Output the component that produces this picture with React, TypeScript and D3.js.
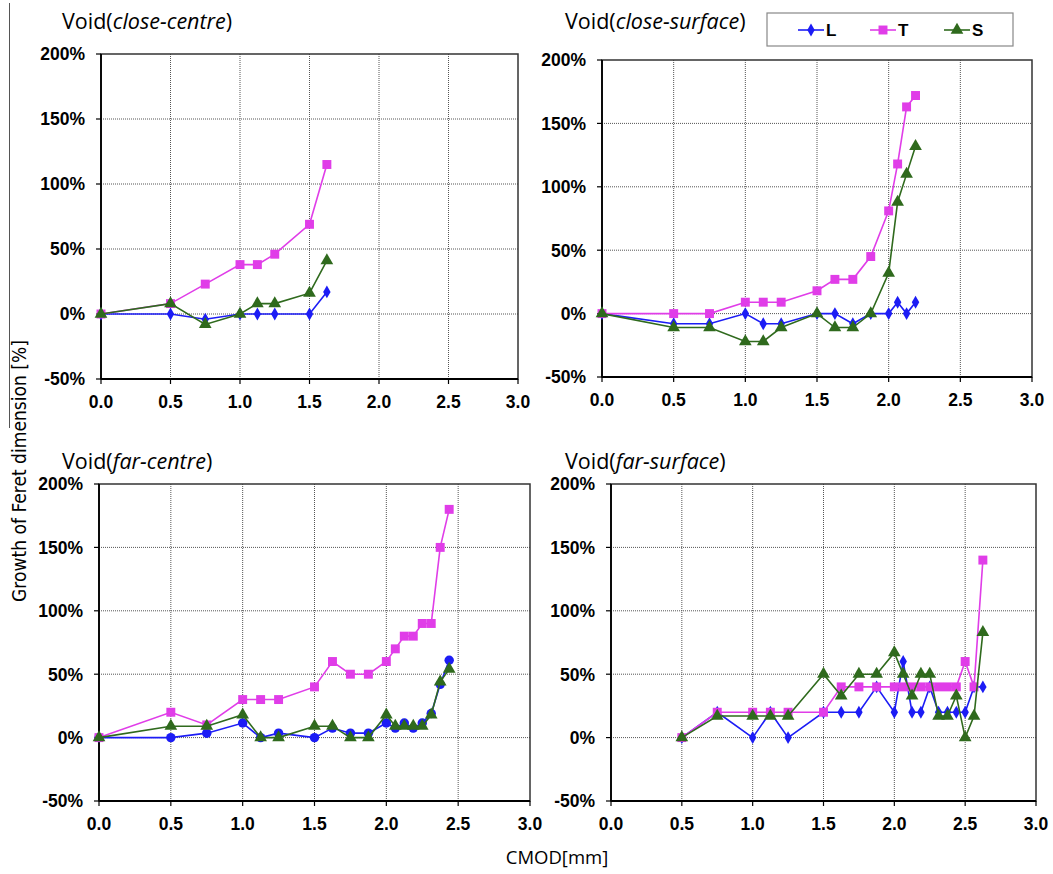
import React from "react";
import * as d3 from "d3";

// CMOD values (mm) and growth of Feret dimension (%) per void location
const closeCentreX = [0, 0.5, 0.75, 1.0, 1.125, 1.25, 1.5, 1.625];
const closeCentreL = [0, 0, -4, 0, 0, 0, 0, 17];
const closeCentreT = [0, 8, 23, 38, 38, 46, 69, 115];
const closeCentreS = [0, 8, -8, 0, 8, 8, 16, 41];

const closeSurfaceX = [0, 0.5, 0.75, 1.0, 1.125, 1.25, 1.5, 1.625, 1.75, 1.875, 2.0, 2.0625, 2.125, 2.1875];
const closeSurfaceL = [0, -8, -8, 0, -8, -8, 0, 0, -8, 0, 0, 9, 0, 9];
const closeSurfaceT = [0, 0, 0, 9, 9, 9, 18, 27, 27, 45, 81, 118, 163, 172];
const closeSurfaceS = [0, -11, -11, -22, -22, -11, 0, -11, -11, 0, 32, 88, 110, 132];

const farCentreX = [0, 0.5, 0.75, 1.0, 1.125, 1.25, 1.5, 1.625, 1.75, 1.875, 2.0, 2.0625, 2.125, 2.1875, 2.25, 2.3125, 2.375, 2.4375];
const farCentreL = [0, 0, 3.5, 11.5, 0, 3.5, 0, 7.5, 3.5, 3.5, 11.5, 7.5, 11.5, 7.5, 11.5, 19, 42, 61];
const farCentreT = [0, 20, 10, 30, 30, 30, 40, 60, 50, 50, 60, 70, 80, 80, 90, 90, 150, 180];
const farCentreS = [0, 9, 9, 18, 0, 0, 9, 9, 0, 0, 18, 9, 9, 9, 9, 18, 44, 54];

const farSurfaceX = [0.5, 0.75, 1.0, 1.125, 1.25, 1.5, 1.625, 1.75, 1.875, 2.0, 2.0625, 2.125, 2.1875, 2.25, 2.3125, 2.375, 2.4375, 2.5, 2.5625, 2.625];
const farSurfaceL = [0, 20, 0, 20, 0, 20, 20, 20, 40, 20, 60, 20, 20, 40, 20, 20, 20, 20, 40, 40];
const farSurfaceT = [0, 20, 20, 20, 20, 20, 40, 40, 40, 40, 40, 40, 40, 40, 40, 40, 40, 60, 40, 140];
const farSurfaceS = [0, 17, 17, 17, 17, 50, 33, 50, 50, 67, 50, 33, 50, 50, 17, 17, 33, 0, 17, 83];

const xTicks = [0, 0.5, 1.0, 1.5, 2.0, 2.5, 3.0];
const yTicks = [-50, 0, 50, 100, 150, 200];
const seriesNames = ["L", "T", "S"];

const colors = { L: "#1c1cf5", T: "#e03de8", S: "#2f6a1d" };

const panels = [
  { place: "close-centre", x: closeCentreX, ys: [closeCentreL, closeCentreT, closeCentreS], box: [101, 54, 518, 379], titleX: 62, titleY: 29, lMarker: d3.symbolDiamond },
  { place: "close-surface", x: closeSurfaceX, ys: [closeSurfaceL, closeSurfaceT, closeSurfaceS], box: [602, 60, 1032, 377], titleX: 565, titleY: 29, lMarker: d3.symbolDiamond },
  { place: "far-centre", x: farCentreX, ys: [farCentreL, farCentreT, farCentreS], box: [99, 484, 530, 801], titleX: 62, titleY: 469, lMarker: d3.symbolCircle },
  { place: "far-surface", x: farSurfaceX, ys: [farSurfaceL, farSurfaceT, farSurfaceS], box: [611, 484, 1036, 801], titleX: 565, titleY: 469, lMarker: d3.symbolDiamond },
];

const tickFont = "'Liberation Sans', Arial, sans-serif";
const titleFont = "'Open Sans', sans-serif";

const markerPath = (name, lMarker) => {
  if (name === "L") return d3.symbol().type(lMarker).size(lMarker === d3.symbolCircle ? 70 : 48)();
  if (name === "T") return d3.symbol().type(d3.symbolSquare).size(80)();
  return d3.symbol().type(d3.symbolTriangle).size(70)();
};

const Panel = ({ p }) => {
  const [left, top, right, bottom] = p.box;
  const xScale = d3.scaleLinear().domain([0, 3]).range([left, right]);
  const yScale = d3.scaleLinear().domain([-50, 200]).range([bottom, top]);

  return (
    <g>
      <text x={p.titleX} y={p.titleY} fontFamily={titleFont} fontSize={21.5} fill="#000">
        Void(<tspan fontStyle="italic">{p.place}</tspan>)
      </text>

      {/* grid */}
      {yTicks.filter(v => v > -50 && v < 200).map(v => (
        <line key={"gy" + v} x1={left} x2={right} y1={yScale(v)} y2={yScale(v)} stroke="#555" strokeDasharray="1,1" />
      ))}
      {xTicks.filter(v => v > 0 && v < 3).map(v => (
        <line key={"gx" + v} x1={xScale(v)} x2={xScale(v)} y1={top} y2={bottom} stroke="#555" strokeDasharray="1,1" />
      ))}
      <rect x={left} y={top} width={right - left} height={bottom - top} fill="none" stroke="#333" strokeWidth={1.5} />
      <line x1={left} x2={left} y1={top} y2={bottom} stroke="#000" strokeWidth={1.8} />
      <line x1={left} x2={right} y1={bottom} y2={bottom} stroke="#000" strokeWidth={1.8} />

      {/* y ticks */}
      {yTicks.map(v => (
        <g key={"yt" + v}>
          <line x1={left - 5} x2={left} y1={yScale(v)} y2={yScale(v)} stroke="#000" strokeWidth={1.2} />
          <text x={left - 16} y={yScale(v)} dy="0.36em" textAnchor="end" fontFamily={tickFont} fontWeight="bold" fontSize={17.5}>
            {v + "%"}
          </text>
        </g>
      ))}
      {/* x ticks */}
      {xTicks.map(v => (
        <g key={"xt" + v}>
          <line x1={xScale(v)} x2={xScale(v)} y1={bottom} y2={bottom + 5} stroke="#000" strokeWidth={1.2} />
          <text x={xScale(v)} y={bottom + 29} textAnchor="middle" fontFamily={tickFont} fontWeight="bold" fontSize={17.5}>
            {v.toFixed(1)}
          </text>
        </g>
      ))}

      {/* series */}
      {seriesNames.map((name, si) => {
        const pts = p.x.map((xv, i) => [xScale(xv), yScale(p.ys[si][i])]);
        const line = d3.line()(pts);
        const mp = markerPath(name, p.lMarker);
        return (
          <g key={name}>
            <path d={line} fill="none" stroke={colors[name]} strokeWidth={1.6} />
            {pts.map(([px, py], i) => (
              <path key={i} d={mp} transform={`translate(${px},${py})`} fill={colors[name]} />
            ))}
          </g>
        );
      })}
    </g>
  );
};

const Legend = () => {
  const items = [
    { name: "L", x: 798 },
    { name: "T", x: 870 },
    { name: "S", x: 944 },
  ];
  return (
    <g>
      <rect x={767} y={13} width={246} height={33} fill="#fff" stroke="#888" strokeWidth={1.2} />
      {items.map(it => (
        <g key={it.name}>
          <line x1={it.x} x2={it.x + 26} y1={30} y2={30} stroke={colors[it.name]} strokeWidth={1.6} />
          <path d={markerPath(it.name, d3.symbolDiamond)} transform={`translate(${it.x + 13},30)`} fill={colors[it.name]} />
          <text x={it.x + 28} y={30} dy="0.36em" fontFamily={tickFont} fontWeight="bold" fontSize={17}>
            {it.name}
          </text>
        </g>
      ))}
    </g>
  );
};

export default function App() {
  return (
    <svg width={1053} height={874} style={{ position: "absolute", left: 0, top: 0, background: "#fff" }}>
      <line x1={9.5} x2={9.5} y1={3} y2={428} stroke="#555" strokeWidth={1} />
      {panels.map(p => (
        <Panel key={p.place} p={p} />
      ))}
      <Legend />
      <text
        transform="translate(26,471) rotate(-90)"
        textAnchor="middle"
        fontFamily="'Liberation Sans Narrow', 'DejaVu Sans Condensed', sans-serif"
        fontSize={20}
        textLength={262}
        lengthAdjust="spacingAndGlyphs"
      >
        Growth of Feret dimension [%]
      </text>
      <text x={557} y={864} textAnchor="middle" fontFamily={titleFont} fontSize={18.5}>
        CMOD[mm]
      </text>
    </svg>
  );
}
